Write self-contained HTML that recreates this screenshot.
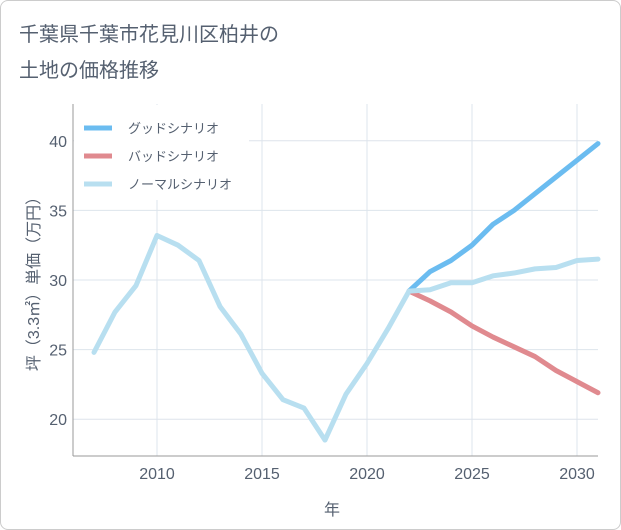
<!DOCTYPE html>
<html><head><meta charset="utf-8"><style>
body{margin:0;background:#fff;font-family:"Liberation Sans","Noto Sans CJK JP",sans-serif;}
#wrap{position:relative;width:621px;height:530px;box-sizing:border-box;border:1px solid #ccc;border-radius:8px;background:#fff;overflow:hidden}
</style></head><body>
<div id="wrap">
<svg id="c" width="621" height="530"></svg>
</div>
<script>
const years=[2007,2008,2009,2010,2011,2012,2013,2014,2015,2016,2017,2018,2019,2020,2021,2022,2023,2024,2025,2026,2027,2028,2029,2030,2031];
const normal=[24.8,27.7,29.6,33.2,32.5,31.4,28.1,26.1,23.3,21.4,20.8,18.5,21.8,24.0,26.5,29.2,29.3,29.8,29.8,30.3,30.5,30.8,30.9,31.4,31.5];
const futYears=[2022,2023,2024,2025,2026,2027,2028,2029,2030,2031];
const good=[29.2,30.6,31.4,32.5,34.0,35.0,36.2,37.4,38.6,39.8];
const bad=[29.2,28.5,27.7,26.7,25.9,25.2,24.5,23.5,22.7,21.9];
const xTicks=[2010,2015,2020,2025,2030];
const yTicks=[20,25,30,35,40];
const NS="http://www.w3.org/2000/svg";
const svg=document.getElementById('c');
const L=72,R=597,T=103,B=455;
const TC='#556070';
const x=v=>156+(v-2010)*21;
const y=v=>279-(v-30)*13.92;
function mk(t,a,p){const e=document.createElementNS(NS,t);for(const k in a)e.setAttribute(k,a[k]);(p||svg).appendChild(e);return e;}
let t=mk('text',{x:18,y:40,'font-size':20,fill:TC});t.textContent='千葉県千葉市花見川区柏井の';

t=mk('text',{x:18,y:76,'font-size':20,fill:TC});t.textContent='土地の価格推移';

xTicks.forEach(v=>{const l=mk('line',{x1:x(v),x2:x(v),y1:T,y2:B,stroke:'#dde4ec'});
const tx=mk('text',{x:x(v),y:478,'font-size':16,fill:TC,'text-anchor':'middle'});tx.textContent=v;});
yTicks.forEach(v=>{const l=mk('line',{x1:L,x2:R,y1:y(v),y2:y(v),stroke:'#dde4ec'});
const tx=mk('text',{x:66,y:y(v)+6,'font-size':16,fill:TC,'text-anchor':'end'});tx.textContent=v;});
let a=mk('line',{x1:L,x2:L,y1:T,y2:B,stroke:'#999'});
a=mk('line',{x1:L,x2:R,y1:B,y2:B,stroke:'#999'});
function line(xs,ys,col,name){const p=mk('polyline',{points:xs.map((v,i)=>x(v)+','+y(ys[i])).join(' '),fill:'none',stroke:col,'stroke-width':5,'stroke-linejoin':'round','stroke-linecap':'round'});}
line(futYears,bad,'#e08a8f','bad-scenario-line');
line(futYears,good,'#6bbcf0','good-scenario-line');
line(years,normal,'#b8dff0','normal-scenario-line');
const lg=mk('rect',{x:73,y:104,width:175,height:95,fill:'#fff'});
[['グッドシナリオ','#6bbcf0'],['バッドシナリオ','#e08a8f'],['ノーマルシナリオ','#b8dff0']].forEach((d,i)=>{const g=mk('g',{});
mk('line',{x1:83,x2:111,y1:127+i*28,y2:127+i*28,stroke:d[1],'stroke-width':5},g);
const tx=mk('text',{x:127,y:132+i*28,'font-size':13,fill:TC},g);tx.textContent=d[0];});
t=mk('text',{x:331,y:514,'font-size':16,fill:TC,'text-anchor':'middle'});t.textContent='年';
t=mk('text',{x:0,y:0,'font-size':16,fill:TC,'text-anchor':'middle',transform:'translate(38,279) rotate(-90)'});t.textContent='坪（3.3㎡）単価（万円）';
</script>
</body></html>
